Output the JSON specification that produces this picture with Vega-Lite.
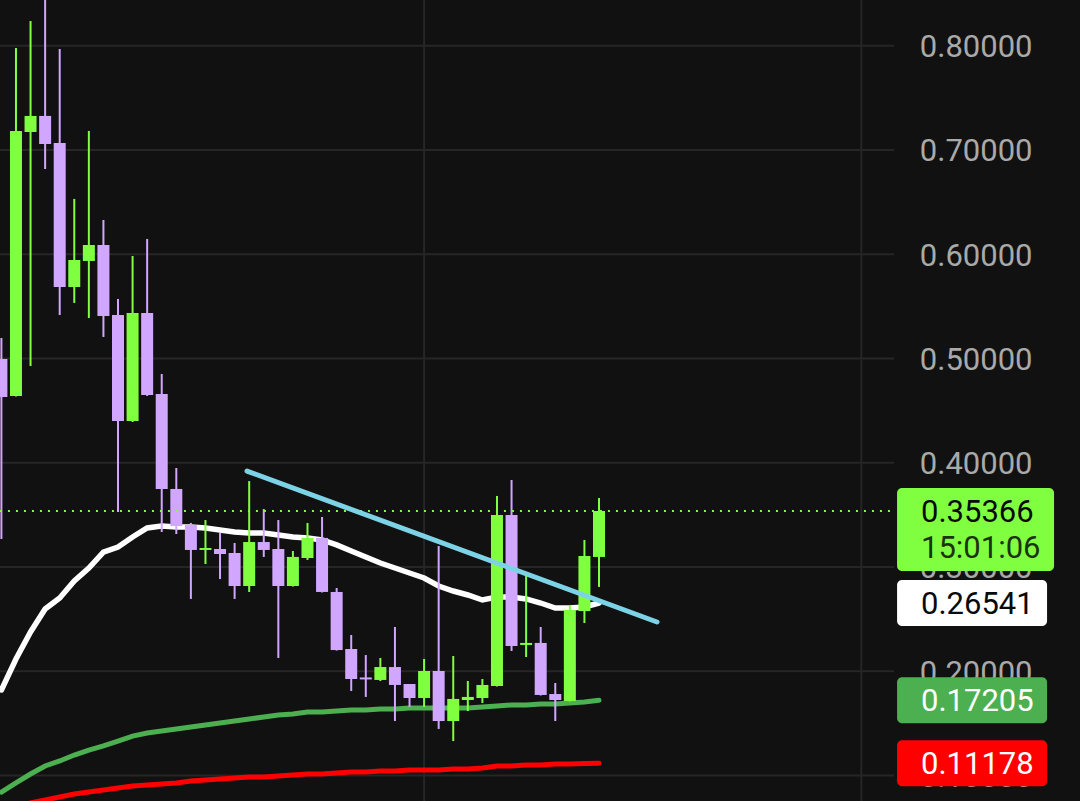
{
  "$schema": "https://vega.github.io/schema/vega-lite/v6.json",
  "width": 1080,
  "height": 801,
  "padding": 0,
  "autosize": {"type": "none"},
  "background": "#111111",
  "config": {
    "view": {"stroke": null},
    "font": "Roboto"
  },
  "datasets": {
    "candles": [
      {"i": 0, "o": 0.4995, "h": 0.5196, "l": 0.3268, "c": 0.4630},
      {"i": 1, "o": 0.4640, "h": 0.7978, "l": 0.4635, "c": 0.7182},
      {"i": 2, "o": 0.7172, "h": 0.8237, "l": 0.4928, "c": 0.7326},
      {"i": 3, "o": 0.7326, "h": 0.8457, "l": 0.6817, "c": 0.7057},
      {"i": 4, "o": 0.7067, "h": 0.7968, "l": 0.5417, "c": 0.5685},
      {"i": 5, "o": 0.5685, "h": 0.6530, "l": 0.5532, "c": 0.5944},
      {"i": 6, "o": 0.5935, "h": 0.7182, "l": 0.5388, "c": 0.6088},
      {"i": 7, "o": 0.6088, "h": 0.6328, "l": 0.5206, "c": 0.5407},
      {"i": 8, "o": 0.5417, "h": 0.5570, "l": 0.3527, "c": 0.4400},
      {"i": 9, "o": 0.4400, "h": 0.5983, "l": 0.4390, "c": 0.5436},
      {"i": 10, "o": 0.5436, "h": 0.6146, "l": 0.4640, "c": 0.4649},
      {"i": 11, "o": 0.4659, "h": 0.4851, "l": 0.3335, "c": 0.3748},
      {"i": 12, "o": 0.3748, "h": 0.3949, "l": 0.3316, "c": 0.3393},
      {"i": 13, "o": 0.3402, "h": 0.3422, "l": 0.2693, "c": 0.3163},
      {"i": 14, "o": 0.3163, "h": 0.3450, "l": 0.3028, "c": 0.3182},
      {"i": 15, "o": 0.3172, "h": 0.3326, "l": 0.2884, "c": 0.3124},
      {"i": 16, "o": 0.3134, "h": 0.3230, "l": 0.2693, "c": 0.2817},
      {"i": 17, "o": 0.2817, "h": 0.3824, "l": 0.2760, "c": 0.3239},
      {"i": 18, "o": 0.3239, "h": 0.3556, "l": 0.3096, "c": 0.3163},
      {"i": 19, "o": 0.3172, "h": 0.3450, "l": 0.2127, "c": 0.2817},
      {"i": 20, "o": 0.2817, "h": 0.3153, "l": 0.2812, "c": 0.3096},
      {"i": 21, "o": 0.3086, "h": 0.3422, "l": 0.3067, "c": 0.3278},
      {"i": 22, "o": 0.3278, "h": 0.3479, "l": 0.2755, "c": 0.2760},
      {"i": 23, "o": 0.2760, "h": 0.2798, "l": 0.2198, "c": 0.2203},
      {"i": 24, "o": 0.2213, "h": 0.2347, "l": 0.1810, "c": 0.1925},
      {"i": 25, "o": 0.1940, "h": 0.2155, "l": 0.1753, "c": 0.1921},
      {"i": 26, "o": 0.1916, "h": 0.2127, "l": 0.1906, "c": 0.2040},
      {"i": 27, "o": 0.2040, "h": 0.2424, "l": 0.1522, "c": 0.1868},
      {"i": 28, "o": 0.1877, "h": 0.1877, "l": 0.1657, "c": 0.1743},
      {"i": 29, "o": 0.1743, "h": 0.2117, "l": 0.1657, "c": 0.2002},
      {"i": 30, "o": 0.2002, "h": 0.3201, "l": 0.1446, "c": 0.1522},
      {"i": 31, "o": 0.1522, "h": 0.2146, "l": 0.1330, "c": 0.1734},
      {"i": 32, "o": 0.1724, "h": 0.1906, "l": 0.1618, "c": 0.1753},
      {"i": 33, "o": 0.1743, "h": 0.1925, "l": 0.1695, "c": 0.1868},
      {"i": 34, "o": 0.1858, "h": 0.3681, "l": 0.1853, "c": 0.3498},
      {"i": 35, "o": 0.3498, "h": 0.3834, "l": 0.2194, "c": 0.2242},
      {"i": 36, "o": 0.2252, "h": 0.2952, "l": 0.2136, "c": 0.2271},
      {"i": 37, "o": 0.2271, "h": 0.2424, "l": 0.1767, "c": 0.1772},
      {"i": 38, "o": 0.1781, "h": 0.1887, "l": 0.1522, "c": 0.1724},
      {"i": 39, "o": 0.1714, "h": 0.2635, "l": 0.1709, "c": 0.2587},
      {"i": 40, "o": 0.2577, "h": 0.3259, "l": 0.2462, "c": 0.3105},
      {"i": 41, "o": 0.3096, "h": 0.3661, "l": 0.2808, "c": 0.35366}
    ],
    "averages": [
      {"i": 0, "ema": 0.1820, "mid": 0.0841, "slow": 0.0649},
      {"i": 1, "ema": 0.2117, "mid": 0.0928, "slow": 0.0697},
      {"i": 2, "ema": 0.2376, "mid": 0.1014, "slow": 0.0736},
      {"i": 3, "ema": 0.2597, "mid": 0.1091, "slow": 0.0765},
      {"i": 4, "ema": 0.2702, "mid": 0.1139, "slow": 0.0793},
      {"i": 5, "ema": 0.2865, "mid": 0.1196, "slow": 0.0822},
      {"i": 6, "ema": 0.2990, "mid": 0.1244, "slow": 0.0842},
      {"i": 7, "ema": 0.3143, "mid": 0.1283, "slow": 0.0861},
      {"i": 8, "ema": 0.3191, "mid": 0.1330, "slow": 0.0880},
      {"i": 9, "ema": 0.3287, "mid": 0.1378, "slow": 0.0899},
      {"i": 10, "ema": 0.3374, "mid": 0.1407, "slow": 0.0909},
      {"i": 11, "ema": 0.3393, "mid": 0.1426, "slow": 0.0918},
      {"i": 12, "ema": 0.3383, "mid": 0.1446, "slow": 0.0928},
      {"i": 13, "ema": 0.3383, "mid": 0.1465, "slow": 0.0947},
      {"i": 14, "ema": 0.3374, "mid": 0.1484, "slow": 0.0956},
      {"i": 15, "ema": 0.3355, "mid": 0.1503, "slow": 0.0966},
      {"i": 16, "ema": 0.3335, "mid": 0.1522, "slow": 0.0976},
      {"i": 17, "ema": 0.3326, "mid": 0.1541, "slow": 0.0985},
      {"i": 18, "ema": 0.3326, "mid": 0.1561, "slow": 0.0985},
      {"i": 19, "ema": 0.3307, "mid": 0.1580, "slow": 0.0995},
      {"i": 20, "ema": 0.3287, "mid": 0.1589, "slow": 0.1004},
      {"i": 21, "ema": 0.3278, "mid": 0.1609, "slow": 0.1014},
      {"i": 22, "ema": 0.3259, "mid": 0.1609, "slow": 0.1014},
      {"i": 23, "ema": 0.3211, "mid": 0.1618, "slow": 0.1024},
      {"i": 24, "ema": 0.3153, "mid": 0.1628, "slow": 0.1033},
      {"i": 25, "ema": 0.3096, "mid": 0.1628, "slow": 0.1033},
      {"i": 26, "ema": 0.3038, "mid": 0.1637, "slow": 0.1043},
      {"i": 27, "ema": 0.2990, "mid": 0.1637, "slow": 0.1043},
      {"i": 28, "ema": 0.2942, "mid": 0.1647, "slow": 0.1052},
      {"i": 29, "ema": 0.2894, "mid": 0.1647, "slow": 0.1052},
      {"i": 30, "ema": 0.2817, "mid": 0.1647, "slow": 0.1052},
      {"i": 31, "ema": 0.2769, "mid": 0.1647, "slow": 0.1062},
      {"i": 32, "ema": 0.2731, "mid": 0.1647, "slow": 0.1062},
      {"i": 33, "ema": 0.2683, "mid": 0.1657, "slow": 0.1071},
      {"i": 34, "ema": 0.2712, "mid": 0.1666, "slow": 0.1091},
      {"i": 35, "ema": 0.2712, "mid": 0.1676, "slow": 0.1091},
      {"i": 36, "ema": 0.2693, "mid": 0.1676, "slow": 0.1100},
      {"i": 37, "ema": 0.2654, "mid": 0.1685, "slow": 0.1100},
      {"i": 38, "ema": 0.2606, "mid": 0.1685, "slow": 0.1110},
      {"i": 39, "ema": 0.2606, "mid": 0.1695, "slow": 0.1110},
      {"i": 40, "ema": 0.2616, "mid": 0.1705, "slow": 0.1114},
      {"i": 41, "ema": 0.26541, "mid": 0.17205, "slow": 0.11178}
    ],
    "trendline": [
      {"i": 16.85, "p": 0.3920},
      {"i": 44.98, "p": 0.2472}
    ],
    "levels": [
      {"p": 0.1}, {"p": 0.2}, {"p": 0.3}, {"p": 0.4},
      {"p": 0.5}, {"p": 0.6}, {"p": 0.7}, {"p": 0.8}
    ],
    "columns": [{"i": 29}, {"i": 59}],
    "tags": [
      {"name": "last", "price": 0.35366, "countdown": "15:01:06"},
      {"name": "ema", "price": 0.26541},
      {"name": "mid", "price": 0.17205},
      {"name": "slow", "price": 0.11178}
    ]
  },
  "encoding": {
    "x": {
      "type": "quantitative",
      "scale": {"domain": [-0.096, 74.0], "nice": false, "zero": false, "padding": 0},
      "axis": null
    }
  },
  "layer": [
    {
      "data": {"name": "columns"},
      "mark": {"type": "rule", "color": "#262626", "strokeWidth": 2},
      "encoding": {"x": {"field": "i", "type": "quantitative"}}
    },
    {
      "data": {"name": "levels"},
      "mark": {"type": "rule", "color": "#262626", "strokeWidth": 2},
      "encoding": {
        "x": {"datum": -0.1, "type": "quantitative"},
        "x2": {"datum": 61.24},
        "y": {
          "field": "p",
          "type": "quantitative",
          "scale": {"domain": [0.0755, 0.8438], "nice": false, "zero": false},
          "axis": {
            "orient": "right",
            "values": [0.1, 0.2, 0.3, 0.4, 0.5, 0.6, 0.7, 0.8],
            "format": ".5f",
            "title": null,
            "grid": false,
            "domain": false,
            "ticks": false,
            "tickSize": 0,
            "labelPadding": -48,
            "labelOffset": 2,
            "labelAlign": "right",
            "labelBaseline": "middle",
            "labelFont": "Roboto",
            "labelFontSize": 31,
            "labelColor": "#a9a9a9",
            "labelFlush": false,
            "labelOverlap": false,
            "zindex": 0
          }
        }
      }
    },
    {
      "data": {"name": "averages"},
      "mark": {"type": "line", "color": "#ff0000", "strokeWidth": 5, "strokeCap": "round", "clip": true},
      "encoding": {
        "x": {"field": "i", "type": "quantitative"},
        "y": {"field": "slow", "type": "quantitative"}
      }
    },
    {
      "data": {"name": "averages"},
      "mark": {"type": "line", "color": "#4caf50", "strokeWidth": 5, "strokeCap": "round", "clip": true},
      "encoding": {
        "x": {"field": "i", "type": "quantitative"},
        "y": {"field": "mid", "type": "quantitative"}
      }
    },
    {
      "data": {"name": "averages"},
      "mark": {"type": "line", "color": "#ffffff", "strokeWidth": 5.5, "strokeCap": "round", "clip": true},
      "encoding": {
        "x": {"field": "i", "type": "quantitative"},
        "y": {"field": "ema", "type": "quantitative"}
      }
    },
    {
      "data": {"name": "candles"},
      "mark": {"type": "rule", "strokeWidth": 2, "clip": true},
      "encoding": {
        "x": {"field": "i", "type": "quantitative"},
        "y": {"field": "l", "type": "quantitative"},
        "y2": {"field": "h"},
        "color": {
          "condition": {"test": "datum.c >= datum.o", "value": "#80ff40"},
          "value": "#d0a6ff"
        }
      }
    },
    {
      "data": {"name": "candles"},
      "mark": {"type": "bar", "width": 12, "clip": true},
      "encoding": {
        "x": {"field": "i", "type": "quantitative"},
        "y": {"field": "o", "type": "quantitative"},
        "y2": {"field": "c"},
        "color": {
          "condition": {"test": "datum.c >= datum.o", "value": "#80ff40"},
          "value": "#d0a6ff"
        }
      }
    },
    {
      "data": {"name": "tags"},
      "transform": [{"filter": {"field": "name", "equal": "last"}}],
      "mark": {"type": "rule", "color": "#80ff40", "strokeWidth": 2, "strokeDash": [2, 6]},
      "encoding": {
        "x": {"datum": -0.1, "type": "quantitative"},
        "x2": {"datum": 61.3},
        "y": {"field": "price", "type": "quantitative"}
      }
    },
    {
      "data": {"name": "trendline"},
      "mark": {"type": "line", "color": "#7dd3e6", "strokeWidth": 5, "strokeCap": "round"},
      "encoding": {
        "x": {"field": "i", "type": "quantitative"},
        "y": {"field": "p", "type": "quantitative"}
      }
    },
    {
      "data": {"name": "tags"},
      "transform": [{"filter": {"field": "name", "equal": "last"}}],
      "mark": {"type": "rect", "cornerRadius": 5, "yOffset": -23, "y2Offset": 60},
      "encoding": {
        "x": {"datum": 61.45, "type": "quantitative"},
        "x2": {"datum": 72.22},
        "y": {"field": "price", "type": "quantitative"},
        "y2": {"field": "price"},
        "fill": {"value": "#80ff40"}
      }
    },
    {
      "data": {"name": "tags"},
      "transform": [{"filter": "datum.name != 'last'"}],
      "mark": {"type": "rect", "cornerRadius": 5, "yOffset": -23, "y2Offset": 23},
      "encoding": {
        "x": {"datum": 61.45, "type": "quantitative"},
        "x2": {"datum": 71.74},
        "y": {"field": "price", "type": "quantitative"},
        "y2": {"field": "price"},
        "fill": {
          "field": "name",
          "type": "nominal",
          "scale": {"domain": ["ema", "mid", "slow"], "range": ["#ffffff", "#4caf50", "#ff0000"]},
          "legend": null
        }
      }
    },
    {
      "data": {"name": "tags"},
      "mark": {"type": "text", "align": "left", "baseline": "middle", "font": "Roboto", "fontSize": 31, "dy": 1.5},
      "encoding": {
        "x": {"datum": 63.09, "type": "quantitative"},
        "y": {"field": "price", "type": "quantitative"},
        "text": {"field": "price", "type": "quantitative", "format": ".5f"},
        "color": {
          "field": "name",
          "type": "nominal",
          "scale": {"domain": ["last", "ema", "mid", "slow"], "range": ["#0a0a0a", "#0a0a0a", "#ffffff", "#ffffff"]},
          "legend": null
        }
      }
    },
    {
      "data": {"name": "tags"},
      "transform": [{"filter": {"field": "name", "equal": "last"}}],
      "mark": {"type": "text", "align": "left", "baseline": "middle", "font": "Roboto", "fontSize": 31, "yOffset": 38, "color": "#1b3312"},
      "encoding": {
        "x": {"datum": 63.09, "type": "quantitative"},
        "y": {"field": "price", "type": "quantitative"},
        "text": {"field": "countdown", "type": "nominal"}
      }
    }
  ]
}
